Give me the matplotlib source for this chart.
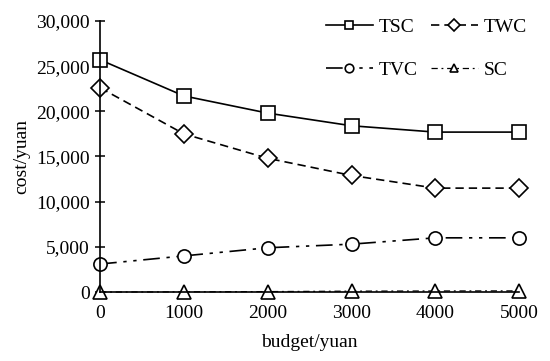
import numpy as np
import matplotlib
matplotlib.use("Agg")
import matplotlib.pyplot as plt
from matplotlib.ticker import FuncFormatter

plt.rcParams['font.family'] = ['Liberation Serif', 'DejaVu Serif']

budget = [0, 1000, 2000, 3000, 4000, 5000]
tsc = [25700, 21700, 19800, 18400, 17700, 17700]
twc = [22600, 17500, 14800, 12900, 11500, 11500]
tvc = [3100, 4000, 4900, 5300, 6000, 6000]
sc = [0, 20, 50, 100, 120, 130]

fig = plt.figure(figsize=(5.5, 3.61), dpi=100)
ax = fig.add_axes([0.182, 0.191, 0.762, 0.751])

mk = dict(markersize=9.5, markerfacecolor='white', markeredgecolor='black',
          markeredgewidth=1.2, color='black', lw=1.2, clip_on=False)
l1, = ax.plot(budget, tsc, '-', marker='s', label='TSC', **mk)
l2, = ax.plot(budget, twc, marker='D', dashes=(5, 3), label='TWC', **dict(mk, markersize=9))
l3, = ax.plot(budget, tvc, marker='o', dashes=(10, 4, 2, 4, 2, 4), label='TVC', **mk)
l4, = ax.plot(budget, sc, marker='^', dashes=(5, 3, 1.5, 3), label='SC', **dict(mk, lw=0.9))

ax.set_xlim(0, 5000)
ax.set_ylim(0, 30000)
ax.set_xticks(budget)
ax.set_yticks(np.arange(0, 30001, 5000))
ax.yaxis.set_major_formatter(FuncFormatter(lambda v, p: f"{int(v):,}"))

for s in ['top', 'right']:
    ax.spines[s].set_visible(False)
ax.spines['left'].set_linewidth(1.2)
ax.spines['bottom'].set_linewidth(1.2)
ax.tick_params(axis='y', direction='inout', length=7, width=1.1, labelsize=14, pad=4)
ax.tick_params(axis='x', length=0, labelsize=14, pad=9)

ax.set_xlabel('budget/yuan', fontsize=14, labelpad=9)
ax.set_ylabel('cost/yuan', fontsize=14, labelpad=4)

# row-wise order: TSC TWC / TVC SC
ax.legend([l1, l3, l2, l4], ['TSC', 'TVC', 'TWC', 'SC'], ncol=2, loc='upper right',
          bbox_to_anchor=(1.06, 1.075), frameon=False, fontsize=14, markerscale=0.65,
          handlelength=2.4, columnspacing=0.7, labelspacing=1.3, handletextpad=0.3)

fig.savefig('out.png', dpi=100)
